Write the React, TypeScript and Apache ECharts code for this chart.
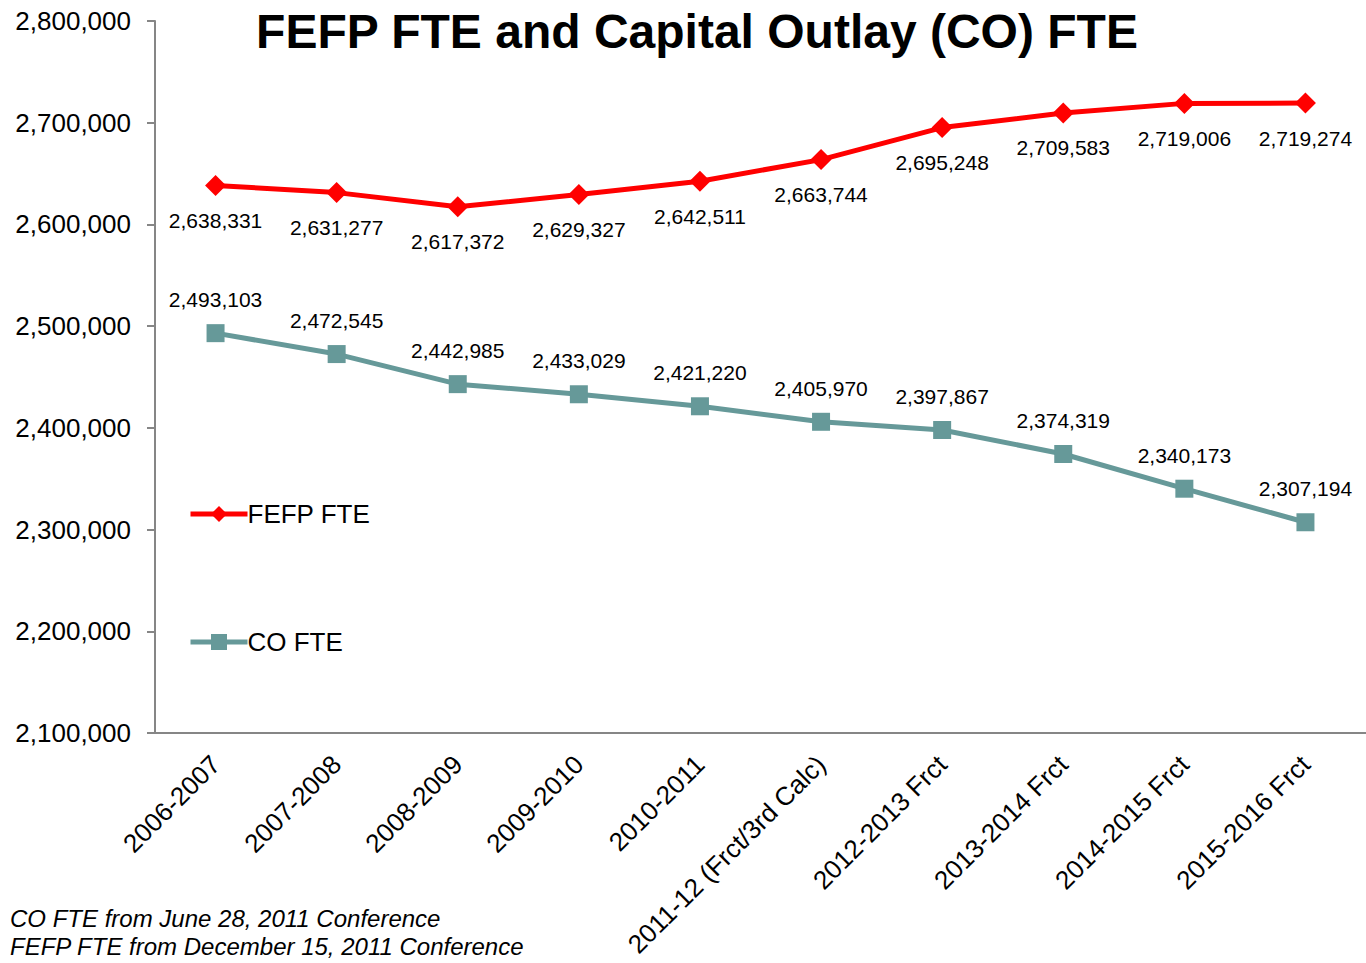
import React, { useEffect, useRef } from "react";
import * as echarts from "echarts";

const categories = [
  "2006-2007",
  "2007-2008",
  "2008-2009",
  "2009-2010",
  "2010-2011",
  "2011-12 (Frct/3rd Calc)",
  "2012-2013 Frct",
  "2013-2014 Frct",
  "2014-2015 Frct",
  "2015-2016 Frct",
];
const fefpFTE = [2638331, 2631277, 2617372, 2629327, 2642511, 2663744, 2695248, 2709583, 2719006, 2719274];
const coFTE = [2493103, 2472545, 2442985, 2433029, 2421220, 2405970, 2397867, 2374319, 2340173, 2307194];
const footnotes = ["CO FTE from June 28, 2011 Conference", "FEFP FTE from December 15, 2011 Conference"];

const fmt = (v: number) => v.toLocaleString("en-US");
const FONT = "Liberation Sans, Arial, sans-serif";

export default function App() {
  const ref = useRef<HTMLDivElement>(null);
  useEffect(() => {
    const chart = echarts.init(ref.current!, null, { renderer: "svg" });
    const legendCommon = {
      left: 183,
      itemWidth: 57,
      itemHeight: 20,
      itemGap: 0,
      lineStyle: { width: 5 },
      textStyle: { fontSize: 26, color: "#000", fontFamily: FONT, padding: [0, 0, 0, -5] },
    };
    chart.setOption({
      animation: false,
      textStyle: { fontFamily: FONT },
      grid: { left: 155, top: 21, bottom: 230, right: -2, containLabel: false },
      graphic: [
        {
          type: "text",
          x: 697,
          y: 31,
          style: {
            text: "FEFP FTE and Capital Outlay (CO) FTE",
            font: `bold 48px ${FONT}`,
            fill: "#000",
            textAlign: "center",
            textVerticalAlign: "middle",
          },
        },
        {
          type: "text",
          x: 10,
          y: 918,
          style: { text: footnotes[0], font: `italic 24px ${FONT}`, fill: "#000", textVerticalAlign: "middle" },
        },
        {
          type: "text",
          x: 10,
          y: 946,
          style: { text: footnotes[1], font: `italic 24px ${FONT}`, fill: "#000", textVerticalAlign: "middle" },
        },
      ],
      legend: [
        { ...legendCommon, data: ["FEFP FTE"], top: 496 },
        { ...legendCommon, data: ["CO FTE"], top: 624 },
      ],
      xAxis: {
        type: "category",
        data: categories,
        boundaryGap: true,
        axisLine: { lineStyle: { color: "#868686", width: 2 } },
        axisTick: { length: 8, lineStyle: { color: "#868686", width: 2 } },
        axisLabel: { rotate: 45, fontSize: 26, color: "#000", fontFamily: FONT, margin: 27, interval: 0 },
      },
      yAxis: {
        type: "value",
        min: 2100000,
        max: 2800000,
        interval: 100000,
        splitLine: { show: false },
        axisLine: { show: true, lineStyle: { color: "#868686", width: 2 } },
        axisTick: { show: true, length: 8, lineStyle: { color: "#868686", width: 2 } },
        axisLabel: { fontSize: 26, color: "#000", fontFamily: FONT, margin: 24, formatter: (v: number) => fmt(v) },
      },
      series: [
        {
          name: "FEFP FTE",
          type: "line",
          data: fefpFTE,
          symbol: "diamond",
          symbolSize: 21,
          lineStyle: { color: "#FF0000", width: 5 },
          itemStyle: { color: "#FF0000" },
          label: {
            show: true,
            position: "bottom",
            distance: 14,
            fontSize: 21,
            color: "#000",
            fontFamily: FONT,
            formatter: (p: any) => fmt(p.value),
          },
        },
        {
          name: "CO FTE",
          type: "line",
          data: coFTE,
          symbol: "rect",
          symbolSize: 18,
          lineStyle: { color: "#669999", width: 5 },
          itemStyle: { color: "#669999" },
          label: {
            show: true,
            position: "top",
            distance: 14,
            fontSize: 21,
            color: "#000",
            fontFamily: FONT,
            formatter: (p: any) => fmt(p.value),
          },
        },
      ],
    });
    return () => chart.dispose();
  }, []);
  return (
    <div
      ref={ref}
      style={{ position: "absolute", left: 0, top: 0, width: 1366, height: 963, background: "#fff" }}
    />
  );
}
